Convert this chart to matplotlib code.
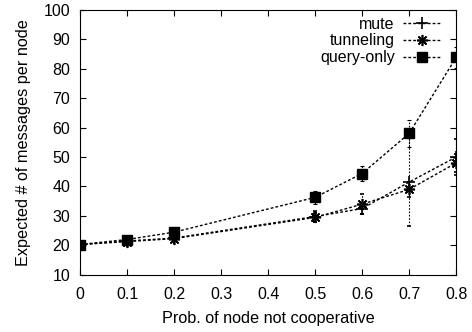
import matplotlib
matplotlib.use("Agg")
import matplotlib.pyplot as plt

plt.rcParams['font.family'] = ['Liberation Sans', 'DejaVu Sans']

prob = [0, 0.1, 0.2, 0.5, 0.6, 0.7, 0.8]

mute = [20.3, 21.5, 22.5, 29.8, 32.5, 41.5, 50.0]
mute_err = [0.3, 0.5, 0.6, 2.0, 2.0, 15.0, 6.0]

tunnel = [20.3, 21.3, 22.3, 29.5, 34.0, 39.0, 48.0]
tunnel_err = [0.3, 0.5, 0.6, 1.5, 3.5, 2.5, 3.0]

query = [20.3, 22.0, 24.5, 36.3, 44.4, 58.0, 83.8]
query_err = [0.3, 0.5, 0.6, 2.3, 2.6, 4.5, 3.5]

fig = plt.figure(figsize=(4.72, 3.32), dpi=100)
ax = fig.add_axes([0.1695, 0.172, 0.797, 0.799])

style = dict(color='black', linestyle=(0, (2, 1.5)), linewidth=1.0,
             elinewidth=0.8, capsize=1.5, capthick=0.8)
e1 = ax.errorbar(prob, mute, yerr=mute_err, marker='+', markersize=8,
                 markeredgewidth=1.2, label='mute', **style)
e2 = ax.errorbar(prob, tunnel, yerr=tunnel_err, marker=(8, 2, 0), markersize=8,
                 markeredgewidth=1.2, label='tunneling', **style)
e3 = ax.errorbar(prob, query, yerr=query_err, marker='s', markersize=6.5,
                 label='query-only', **style)
for e in (e1, e2, e3):
    for bar in e[2]:
        bar.set_linestyle((0, (1.5, 1.5)))

ax.set_xlim(0, 0.8)
ax.set_ylim(10, 100)
ax.set_xticks([0, 0.1, 0.2, 0.3, 0.4, 0.5, 0.6, 0.7, 0.8])
ax.set_xticklabels(['0', '0.1', '0.2', '0.3', '0.4', '0.5', '0.6', '0.7', '0.8'])
ax.set_yticks(range(10, 101, 10))
ax.tick_params(direction='in', top=True, right=True, labelsize=11.5, length=4)
ax.tick_params(axis='x', pad=9)
ax.tick_params(axis='y', pad=7)
ax.set_xlabel('Prob. of node not cooperative', fontsize=11.7, labelpad=6)
ax.set_ylabel('Expected # of messages per node', fontsize=11.7, labelpad=9)

handles = [e1[0], e2[0], e3[0]]
ax.legend(handles, ['mute', 'tunneling', 'query-only'], loc='upper right',
          bbox_to_anchor=(0.985, 1.01), frameon=False, markerfirst=False,
          fontsize=11.5, handlelength=2.4, labelspacing=0.12,
          borderaxespad=0.2, handletextpad=0.5)

fig.savefig('out.png', dpi=100)
